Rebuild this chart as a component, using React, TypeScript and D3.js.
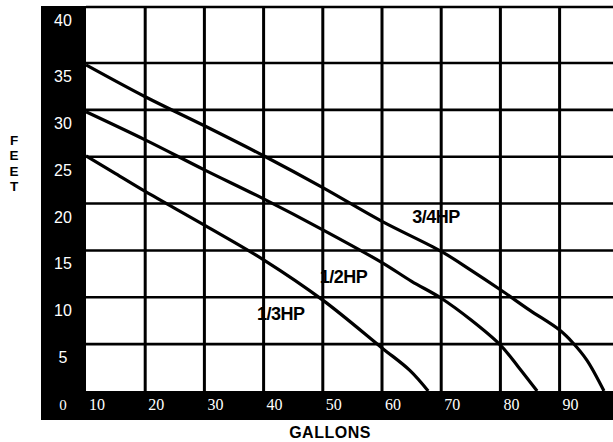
import React, { useRef, useEffect } from 'react';
import * as d3 from 'd3';

// pump curves: [gallons, feet]
const hp34: [number, number][] = [
  [10, 34.8], [20, 31.4], [30, 28.3], [40, 25.1], [50, 21.7], [60, 18.1],
  [70, 14.9], [75, 12.9], [80, 10.8], [85, 8.6], [90, 6.5], [92.3, 5.1],
  [94.6, 3.3], [97.5, 0],
];
const hp12: [number, number][] = [
  [10, 29.8], [20, 26.8], [30, 23.6], [40, 20.5], [50, 17.2], [60, 13.7],
  [65, 11.7], [70, 9.9], [75, 7.6], [80, 4.9], [83, 2.6], [86.2, 0],
];
const hp13: [number, number][] = [
  [10, 25.1], [15, 23.2], [20, 21.3], [30, 17.7], [40, 14.0], [50, 9.7],
  [60, 4.6], [64.7, 2.2], [67.8, 0],
];

const xTicks = [10, 20, 30, 40, 50, 60, 70, 80, 90];
const yTicks = [0, 5, 10, 15, 20, 25, 30, 35, 40];
const curveLabels = [
  { text: '3/4HP', at: [65.1, 17.9] },
  { text: '1/2HP', at: [49.5, 11.5] },
  { text: '1/3HP', at: [38.9, 7.6] },
];
const feetLetters = ['F', 'E', 'E', 'T'];

const App = () => {
  const svgRef = useRef<SVGSVGElement>(null);

  useEffect(() => {
    const svg = d3.select(svgRef.current);
    svg.selectAll('*').remove();
    const width = 613;
    const height = 442;
    const left = 86;
    const bottom = 391;

    svg.attr('width', width).attr('height', height);
    svg.append('rect').attr('width', width).attr('height', height).attr('fill', '#fff');

    const x = d3.scaleLinear().domain([10, 100]).range([left, left + 9 * 59.2]);
    // top band is taller than the others in the original
    const y = d3.scaleLinear().domain([0, 35, 40]).range([bottom, 63, 7]);

    // black frame bands
    svg.append('rect').attr('x', 41).attr('y', 6).attr('width', left - 41).attr('height', 420 - 6).attr('fill', '#000');
    svg.append('rect').attr('x', 41).attr('y', bottom).attr('width', width - 41).attr('height', 420 - bottom).attr('fill', '#000');

    // grid
    svg.append('g')
      .selectAll('line')
      .data(yTicks.filter(d => d > 0))
      .join('line')
      .attr('x1', left).attr('x2', width)
      .attr('y1', d => y(d)).attr('y2', d => y(d))
      .attr('stroke', '#000').attr('stroke-width', 2.6);

    svg.append('g')
      .selectAll('line')
      .data(xTicks.slice(1))
      .join('line')
      .attr('x1', d => x(d)).attr('x2', d => x(d))
      .attr('y1', y(40)).attr('y2', bottom)
      .attr('stroke', '#000').attr('stroke-width', 3);

    // tick labels
    svg.append('g')
      .selectAll('text')
      .data(xTicks)
      .join('text')
      .attr('x', d => x(d) + 3)
      .attr('y', 410)
      .attr('fill', '#fff')
      .style('font-family', '"Liberation Serif", serif')
      .style('font-size', '16px')
      .text(d => d);

    svg.append('g')
      .selectAll('text')
      .data(yTicks)
      .join('text')
      .attr('x', 63)
      .attr('y', d => y(d) + 19)
      .attr('text-anchor', 'middle')
      .attr('fill', '#fff')
      .style('font-family', d => d === 0 ? '"Liberation Serif", serif' : '"Liberation Sans", Arial, sans-serif')
      .style('font-size', d => d === 0 ? '15px' : '16px')
      .text(d => d);

    // curves
    const line = d3.line<[number, number]>()
      .x(d => x(d[0]))
      .y(d => y(d[1]))
      .curve(d3.curveCatmullRom.alpha(0.5));

    svg.append('g')
      .selectAll('path')
      .data([hp34, hp12, hp13])
      .join('path')
      .attr('d', d => line(d))
      .attr('fill', 'none')
      .attr('stroke', '#000')
      .attr('stroke-width', 3.2);

    svg.append('g')
      .selectAll('text')
      .data(curveLabels)
      .join('text')
      .attr('x', d => x(d.at[0]))
      .attr('y', d => y(d.at[1]))
      .attr('fill', '#000')
      .style('font-family', '"Liberation Sans", Arial, sans-serif')
      .style('font-weight', 'bold')
      .style('font-size', '18px')
      .style('letter-spacing', '-0.5px')
      .text(d => d.text);

    // axis titles
    svg.append('text')
      .attr('x', 330)
      .attr('y', 438)
      .attr('text-anchor', 'middle')
      .style('font-family', '"Liberation Sans", Arial, sans-serif')
      .style('font-weight', 'bold')
      .style('font-size', '16px')
      .style('letter-spacing', '0.5px')
      .text('GALLONS');

    svg.append('g')
      .selectAll('text')
      .data(feetLetters)
      .join('text')
      .attr('x', 14)
      .attr('y', (d, i) => 145 + i * 15.4)
      .attr('text-anchor', 'middle')
      .style('font-family', '"Liberation Sans", Arial, sans-serif')
      .style('font-weight', 'bold')
      .style('font-size', '13.5px')
      .text(d => d);
  }, []);

  return <svg ref={svgRef} style={{ position: 'absolute', left: 0, top: 0 }}></svg>;
};

export default App;
